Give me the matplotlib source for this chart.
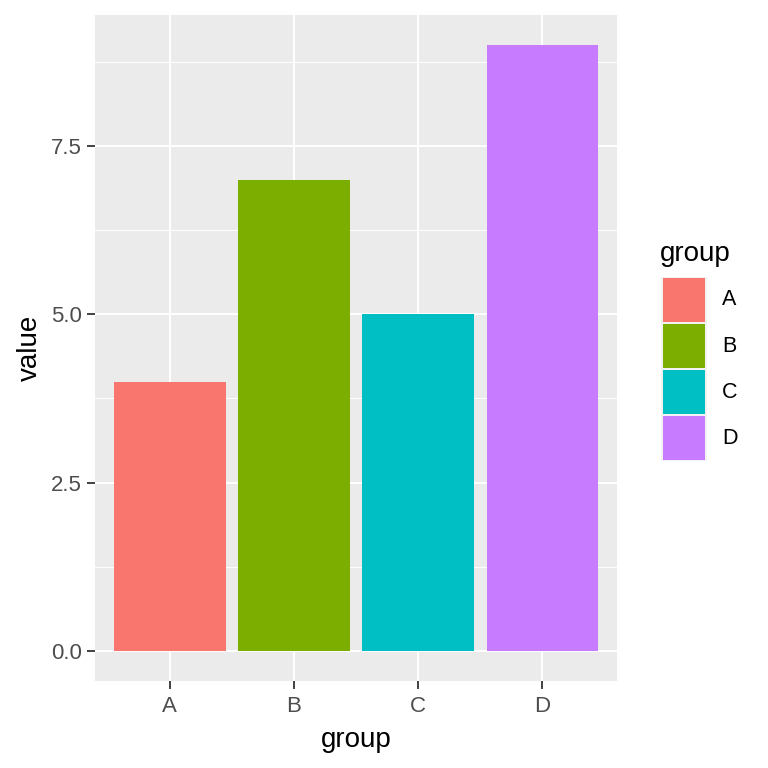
import numpy as np
import matplotlib
matplotlib.use('Agg')
import matplotlib.pyplot as plt
from matplotlib.patches import Rectangle

plt.rcParams['font.family'] = ['Liberation Sans', 'DejaVu Sans']

groups = ['A', 'B', 'C', 'D']
values = [4, 7, 5, 9]
colors = ['#F8766D', '#7CAE00', '#00BFC4', '#C77CFF']
yticks = [0.0, 2.5, 5.0, 7.5]
yminor = [1.25, 3.75, 6.25, 8.75]

W = 768
fig = plt.figure(figsize=(7.68, 7.68), dpi=100)
ax = fig.add_axes([95 / W, 1 - 681 / W, (617 - 95) / W, (681 - 15) / W])
ax.set_facecolor('#EBEBEB')

x = np.arange(1, len(groups) + 1)
ax.bar(x, values, width=0.9, color=colors, zorder=3)

ax.set_xlim(0.4, 4.6)
ax.set_ylim(-0.45, 9.45)
ax.set_xticks(x)
ax.set_xticklabels(groups)
ax.set_yticks(yticks)
ax.set_yticklabels(['%.1f' % v for v in yticks])
ax.set_yticks(yminor, minor=True)
ax.grid(True, which='major', color='white', linewidth=1.4, zorder=1)
ax.grid(True, which='minor', axis='y', color='white', linewidth=0.7, zorder=1)
ax.tick_params(which='major', length=5.5, width=1.3, color='#333333',
               labelcolor='#4D4D4D', labelsize=16)
ax.tick_params(axis='x', pad=5)
ax.tick_params(axis='y', pad=4)
ax.tick_params(which='minor', length=0)
for s in ax.spines.values():
    s.set_visible(False)

ax.set_xlabel('group', fontsize=20, va='baseline')
ax.xaxis.set_label_coords(0.5, (681 - 747) / 666)
ax.set_ylabel('value', fontsize=20, va='baseline')
ax.yaxis.set_label_coords((37 - 95) / 522, 0.5)

# legend drawn by hand, ggplot style
lax = fig.add_axes([661 / W, 1 - 461 / W, 46 / W, 184 / W])
lax.set_xlim(0, 1)
lax.set_ylim(0, len(groups))
lax.axis('off')
for i, (g, c) in enumerate(zip(groups, colors)):
    y0 = len(groups) - 1 - i
    lax.add_patch(Rectangle((0, y0), 1, 1, facecolor='#F2F2F2', edgecolor='none'))
    lax.add_patch(Rectangle((0.04, y0 + 0.03), 0.92, 0.94, facecolor=c, edgecolor='none'))
    lax.text(1.33, y0 + 0.5, g, fontsize=15.5, va='center', ha='left')
fig.text(660 / W, 1 - 261 / W, 'group', fontsize=20, va='baseline', ha='left')

plt.savefig('out.png')
